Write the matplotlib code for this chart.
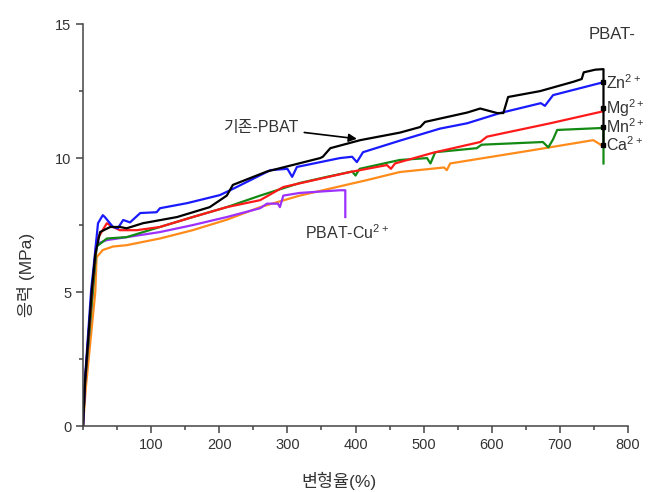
import matplotlib
matplotlib.use("Agg")
import matplotlib.pyplot as plt
from matplotlib.ticker import MultipleLocator

plt.rcParams['font.family'] = ['Liberation Sans', 'Noto Sans CJK KR', 'DejaVu Sans']
plt.rcParams['mathtext.fontset'] = 'custom'
plt.rcParams['mathtext.rm'] = 'Liberation Sans'

# ---------------------------------------------------------------
# Data (strain %, stress MPa)
# ---------------------------------------------------------------
ref_x = [0, 3, 13, 18, 25, 40, 54, 64, 88, 138, 186, 211, 220, 270, 348, 352,
         363, 407, 465, 495, 502, 564, 583, 608, 617, 624, 671, 720, 732, 735,
         752, 764, 764]
ref_y = [0, 1.7, 5.1, 6.4, 7.24, 7.43, 7.43, 7.38, 7.57, 7.8, 8.17, 8.6, 9.0,
         9.5, 10.0, 10.05, 10.37, 10.67, 10.95, 11.16, 11.35, 11.7, 11.85,
         11.68, 11.68, 12.28, 12.5, 12.85, 12.95, 13.2, 13.3, 13.32, 10.5]

zn_x = [0, 3, 12, 15, 22, 29, 32, 44, 51, 59, 69, 84, 108, 113, 153, 201, 220,
        275, 300, 307, 314, 377, 395, 402, 411, 465, 524, 564, 612, 672, 678,
        690, 759, 764]
zn_y = [0, 1.8, 5.1, 5.8, 7.57, 7.87, 7.8, 7.43, 7.38, 7.69, 7.6, 7.95, 7.98,
        8.13, 8.32, 8.62, 8.85, 9.55, 9.6, 9.3, 9.67, 10.0, 10.05, 9.85, 10.22,
        10.65, 11.1, 11.3, 11.68, 12.05, 11.95, 12.35, 12.8, 12.83]

mg_x = [0, 3, 13, 20, 35, 44, 54, 79, 113, 161, 211, 260, 294, 392, 446, 452,
        458, 514, 583, 593, 686, 759, 764]
mg_y = [0, 1.7, 5.0, 6.94, 7.57, 7.43, 7.31, 7.31, 7.43, 7.8, 8.17, 8.43, 8.92,
        9.48, 9.74, 9.6, 9.8, 10.2, 10.6, 10.8, 11.3, 11.72, 11.75]

mn_x = [0, 3, 14, 20, 35, 64, 113, 161, 211, 260, 318, 358, 395, 400, 406, 465,
        505, 510, 517, 578, 585, 675, 683, 690, 696, 759, 764, 764]
mn_y = [0, 1.6, 4.9, 6.7, 7.0, 7.05, 7.43, 7.8, 8.17, 8.6, 9.07, 9.3, 9.5, 9.35,
        9.6, 9.93, 10.0, 9.8, 10.22, 10.37, 10.5, 10.6, 10.4, 10.7, 11.05,
        11.12, 11.15, 9.8]

ca_x = [0, 4, 18, 20, 29, 44, 64, 113, 161, 211, 260, 318, 417, 465, 530, 534,
        539, 661, 749, 763]
ca_y = [0, 1.4, 5.0, 6.3, 6.57, 6.7, 6.75, 7.0, 7.31, 7.7, 8.17, 8.6, 9.18,
        9.48, 9.65, 9.55, 9.8, 10.3, 10.67, 10.45]

cu_x = [0, 3, 14, 20, 35, 64, 113, 161, 186, 211, 260, 270, 286, 289, 294, 318,
        377, 385, 385]
cu_y = [0, 1.6, 5.0, 6.8, 6.94, 7.05, 7.24, 7.5, 7.65, 7.8, 8.13, 8.3, 8.3,
        8.17, 8.6, 8.7, 8.8, 8.8, 7.8]

# end markers of the Zn / Mg / Mn / Ca curves
end_x = [764, 764, 764, 764]
end_y = [12.83, 11.87, 11.16, 10.49]
end_labels = ["Zn", "Mg", "Mn", "Ca"]

TEXT = "#333333"

fig = plt.figure(figsize=(6.61, 4.92), dpi=100)
ax = fig.add_axes([0.1256, 0.134, 0.8245, 0.817])

lw = 1.6
ax.plot(ca_x, ca_y, color="#ff8c1a", lw=lw)
ax.plot(cu_x, cu_y, color="#9b30ff", lw=lw)
ax.plot(mn_x, mn_y, color="#138a13", lw=lw)
ax.plot(mg_x, mg_y, color="#ff1a1a", lw=lw)
ax.plot(zn_x, zn_y, color="#1a1aff", lw=lw)
ax.plot(ref_x, ref_y, color="black", lw=lw)
ax.plot(end_x, end_y, 's', color="black", ms=3.5)

# labels on the right
SUP = r"$^{\mathregular{2+}}$"
ax.text(777, 14.6, "PBAT-", fontsize=12, color=TEXT, ha="center", va="center")
for yy, lab in zip(end_y, end_labels):
    ax.text(768, yy, lab + SUP, fontsize=11.5, color=TEXT,
            ha="left", va="center")

ax.annotate("기존-PBAT", xy=(402, 10.72), xytext=(206, 11.15),
            fontsize=11.5, color=TEXT, ha="left", va="center",
            arrowprops=dict(arrowstyle="-|>", color="black", lw=1.2,
                            mutation_scale=12, shrinkA=2, shrinkB=0))
ax.text(326, 7.2, "PBAT-Cu" + SUP, fontsize=11.5, color=TEXT,
        ha="left", va="center")

# axes
ax.set_xlim(0, 800)
ax.set_ylim(0, 15)
ax.set_xticks([100, 200, 300, 400, 500, 600, 700, 800])
ax.xaxis.set_minor_locator(MultipleLocator(50))
ax.yaxis.set_major_locator(MultipleLocator(5))
ax.yaxis.set_minor_locator(MultipleLocator(2.5))
ax.tick_params(which="major", direction="out", length=5, width=1.1,
               labelsize=10.5, labelcolor=TEXT, color="#444444")
ax.tick_params(which="minor", direction="out", length=3, width=1.1,
               color="#444444")
ax.spines["right"].set_visible(False)
ax.spines["top"].set_visible(False)
for s in ["left", "bottom"]:
    ax.spines[s].set_color("#444444")
    ax.spines[s].set_linewidth(1.1)

ax.set_xlabel("변형율(%)", fontsize=12.5, color=TEXT)
ax.set_ylabel("응력 (MPa)", fontsize=12.5, color=TEXT)
ax.xaxis.set_label_coords(0.47, -0.115)
ax.yaxis.set_label_coords(-0.088, 0.376)

fig.savefig("out.png", dpi=100)
